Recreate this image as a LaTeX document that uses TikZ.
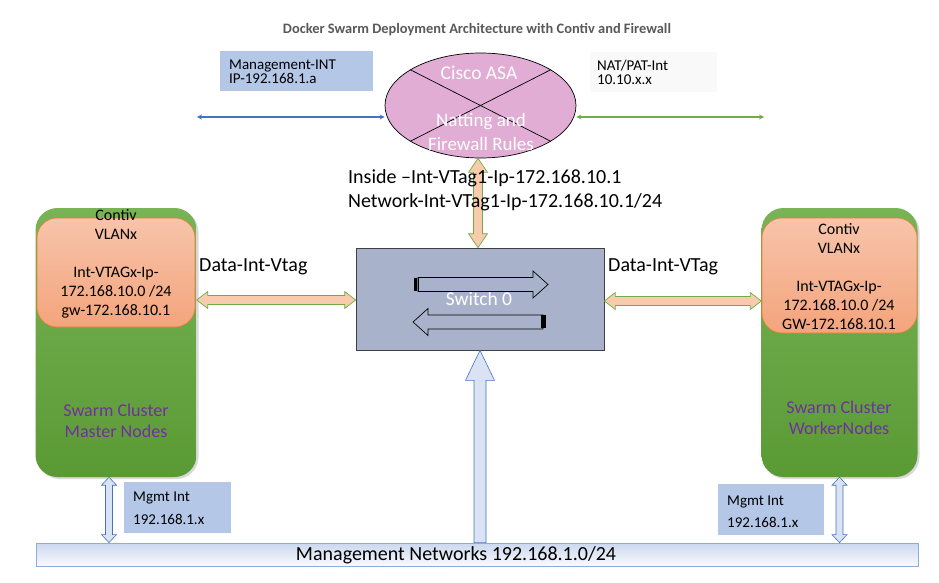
\documentclass[tikz,border=0pt]{standalone}
\usepackage{fontspec}
\setmainfont{Carlito}
\usetikzlibrary{calc,shadows,shapes.geometric,arrows.meta}
\definecolor{cgreenT}{HTML}{78B356}
\definecolor{cgreenB}{HTML}{5A9A34}
\definecolor{corangeT}{HTML}{F7C4AA}
\definecolor{corangeB}{HTML}{F4A47C}
\definecolor{corangeL}{HTML}{ED7D31}
\definecolor{cpeach}{HTML}{F8CBAD}
\definecolor{cgreenL}{HTML}{70AD47}
\definecolor{cblue}{HTML}{4472C4}
\definecolor{clblue}{HTML}{B4C7E7}
\definecolor{cpale}{HTML}{DAE3F3}
\definecolor{cbarL}{HTML}{8FAADC}
\definecolor{cpink}{HTML}{E1ADD5}
\definecolor{cswitch}{HTML}{A8B2CA}
\definecolor{cpurple}{HTML}{7030A0}
\definecolor{ctitle}{HTML}{595959}
\tikzset{
  fs/.style={font=\fontsize{#1}{#1}\selectfont},
  cluster/.style={rounded corners=22pt, top color=cgreenT, bottom color=cgreenB,
    draw=none, minimum width=161pt, minimum height=269pt,
    drop shadow={opacity=0.3,shadow xshift=2pt,shadow yshift=-2pt}},
  vlan/.style={rounded corners=20pt, top color=corangeT, bottom color=corangeB,
    draw=corangeL, line width=0.6pt},
  vlantext/.style={align=center, font=\fontsize{16}{19}\selectfont},
  swarmtext/.style={align=center, text=cpurple, font=\fontsize{18}{21}\selectfont},
  infobox/.style={fill=clblue, inner sep=0pt},
  peacharrow/.style={fill=cpeach, draw=cgreenL, line width=0.7pt},
  bluearrow/.style={fill=cpale, draw=cblue, line width=0.6pt},
  thinarrow/.style={line width=#1, {Stealth[length=5pt,width=5pt]}-{Stealth[length=5pt,width=5pt]}},
}
% double-headed block arrow: style, from, to, shaft half, head half, head length
\newcommand{\dblockarrow}[6]{%
  \path[#1] (#2) -- ($(#2)!#6!(#3)!#5!90:(#3)$) -- ($(#2)!#6!(#3)!#4!90:(#3)$)
   -- ($(#3)!#6!(#2)!#4!-90:(#2)$) -- ($(#3)!#6!(#2)!#5!-90:(#2)$) -- (#3)
   -- ($(#3)!#6!(#2)!#5!90:(#2)$) -- ($(#3)!#6!(#2)!#4!90:(#2)$)
   -- ($(#2)!#6!(#3)!#4!-90:(#3)$) -- ($(#2)!#6!(#3)!#5!-90:(#3)$) -- cycle;}
% single-headed block arrow (head at #3)
\newcommand{\sblockarrow}[6]{%
  \path[#1] ($(#2)!#4!90:(#3)$)
   -- ($(#3)!#6!(#2)!#4!-90:(#2)$) -- ($(#3)!#6!(#2)!#5!-90:(#2)$) -- (#3)
   -- ($(#3)!#6!(#2)!#5!90:(#2)$) -- ($(#3)!#6!(#2)!#4!90:(#2)$)
   -- ($(#2)!#4!-90:(#3)$) -- cycle;}
\begin{document}
\begin{tikzpicture}[x=1pt,y=-1pt]
\useasboundingbox[fill=white] (0,0) rectangle (939,583);

% title
\node[text=ctitle, font=\bfseries\fontsize{14.4}{14.4}\selectfont] (title) at (477,30)
  {Docker Swarm Deployment Architecture with Contiv and Firewall};

% top info boxes
\node[infobox, minimum width=153pt, minimum height=40pt] (mgmtint) at (296.5,71) {};
\node[anchor=west, align=left, font=\fontsize{15}{14.5}\selectfont, inner sep=0pt] (mgmtinttext)
  at (229,71.5) {Management-INT\\IP-192.168.1.a};
\node[fill=black!2.5, inner sep=0pt, minimum width=127pt, minimum height=40pt] (natint) at (653.5,72) {};
\node[anchor=west, align=left, font=\fontsize{15}{14.5}\selectfont, inner sep=0pt] (natinttext)
  at (597,72.5) {NAT/PAT-Int\\10.10.x.x};

% Cisco ASA
\node[ellipse, fill=cpink, draw=black, line width=0.7pt, minimum width=191pt,
  minimum height=105pt, inner sep=0pt] (asa) at (480.5,105.5) {};
\draw[line width=0.7pt] (asa.153) -- (asa.-27);
\draw[line width=0.7pt] (asa.27) -- (asa.207);
\node[text=white, fs=19.5] (asatitle) at (479,73) {Cisco ASA};
\node[text=white, align=center, font=\fontsize{19}{24}\selectfont] (asarules) at (481,132)
  {Natting and\\Firewall Rules};

% thin side arrows
\coordinate (bl) at (197,117);
\coordinate (gr) at (764,117);
\draw[thinarrow=1.6pt, cblue] (bl) -- (asa.west |- bl);
\draw[thinarrow=1.2pt, cgreenL] (asa.east |- gr) -- (gr);

% switch
\node[fill=cswitch, draw=black!75, line width=0.7pt, minimum width=248pt,
  minimum height=102pt, inner sep=0pt] (sw) at (480,299) {};
\node[text=white, fs=19.5] (swtext) at (479,299) {Switch 0};
% internal arrows (decorative)
\draw[line width=0.7pt] ($(sw.center)+(-62,-21.5)$) -- ++(115,0) -- ++(0,-6.5) -- ++(15,13.5)
  -- ++(-15,13.5) -- ++(0,-6.5) -- ++(-115,0) -- cycle;
\fill ($(sw.center)+(-66,-21.5)$) rectangle ++(3,13);
\fill ($(sw.center)+(-62.5,-21.5)$) rectangle ++(1.5,13);
\draw[line width=0.7pt] ($(sw.center)+(63,16)$) -- ++(-115,0) -- ++(0,-6.5) -- ++(-15,13.5)
  -- ++(15,13.5) -- ++(0,-6.5) -- ++(115,0) -- cycle;
\fill ($(sw.center)+(63,16)$) rectangle ++(3,13);
\fill ($(sw.center)+(61,16)$) rectangle ++(1.5,13);

% ASA to switch
\coordinate (va) at (asa.south -| 478,0);
\coordinate (vb) at (sw.north -| 478,0);
\dblockarrow{peacharrow}{va}{vb}{4.5pt}{9.5pt}{14pt}

% inside labels
\node[anchor=west, align=left, font=\fontsize{20}{24}\selectfont, inner sep=0pt] (inside)
  at (348,190) {Inside –Int-VTag1-Ip-172.168.10.1\\Network-Int-VTag1-Ip-172.168.10.1/24};

% clusters
\node[cluster] (master) at (116,342.5) {};
\node[vlan, minimum width=158pt, minimum height=109pt] (lvlan) at (116,272.5) {};
\node[vlantext] (lvlantext) at (116,264)
  {Contiv\\VLANx\\[19pt]Int-VTAGx-Ip-\\172.168.10.0 /24\\gw-172.168.10.1};
\node[swarmtext] (lswarm) at (116,421) {Swarm Cluster\\Master Nodes};

\node[cluster, minimum width=156pt] (worker) at (839.5,342.5) {};
\node[vlan, minimum width=155pt, minimum height=115pt] (rvlan) at (839.5,275.5) {};
\node[vlantext] (rvlantext) at (839,277)
  {Contiv\\VLANx\\[19pt]Int-VTAGx-Ip-\\172.168.10.0 /24\\GW-172.168.10.1};
\node[swarmtext] (rswarm) at (839,418) {Swarm Cluster\\WorkerNodes};

% data labels
\node[anchor=west, fs=20, inner sep=0pt] (ldata) at (199,267) {Data-Int-Vtag};
\node[anchor=west, fs=20, inner sep=0pt] (rdata) at (608,267) {Data-Int-VTag};

% data arrows
\coordinate (la) at (master.east |- 0,300);
\coordinate (lb) at (sw.west |- 0,300);
\dblockarrow{peacharrow}{la}{lb}{4.5pt}{8.5pt}{11pt}
\coordinate (ra) at (sw.east |- 0,301);
\coordinate (rb) at (worker.west |- 0,301);
\dblockarrow{peacharrow}{ra}{rb}{4.5pt}{8.5pt}{11pt}

% management bar
\node[top color=cpale!90!cblue, bottom color=white!85!cpale, draw=cbarL, line width=0.8pt,
  minimum width=882pt, minimum height=23pt, inner sep=0pt] (mgmt) at (477,554.5) {};
\node[fs=20] (mgmttext) at (456,555) {Management Networks 192.168.1.0/24};

% big arrow to switch
\coordinate (bb) at (sw.south);
\coordinate (ba) at (mgmt.north -| bb);
\sblockarrow{bluearrow}{ba}{bb}{6pt}{14.5pt}{30pt}

% mgmt int boxes and arrows
\node[infobox, minimum width=107pt, minimum height=51pt] (lmgmt) at (177.5,507.5) {};
\node[anchor=west, align=left, font=\fontsize{15}{23}\selectfont, inner sep=0pt] (lmgmttext)
  at (133,508.5) {Mgmt Int\\192.168.1.x};
\node[infobox, minimum width=106pt, minimum height=51pt] (rmgmt) at (771,509.5) {};
\node[anchor=west, align=left, font=\fontsize{15}{22}\selectfont, inner sep=0pt] (rmgmttext)
  at (727,512) {Mgmt Int\\192.168.1.x};

\coordinate (lma) at ($(master.south)+(-7,0)$);
\coordinate (lmb) at (lma |- mgmt.north);
\dblockarrow{bluearrow}{lma}{lmb}{3.5pt}{7.5pt}{8pt}
\coordinate (rma) at (worker.south);
\coordinate (rmb) at (rma |- mgmt.north);
\dblockarrow{bluearrow}{rma}{rmb}{3.5pt}{7.5pt}{8pt}
\end{tikzpicture}
\end{document}
